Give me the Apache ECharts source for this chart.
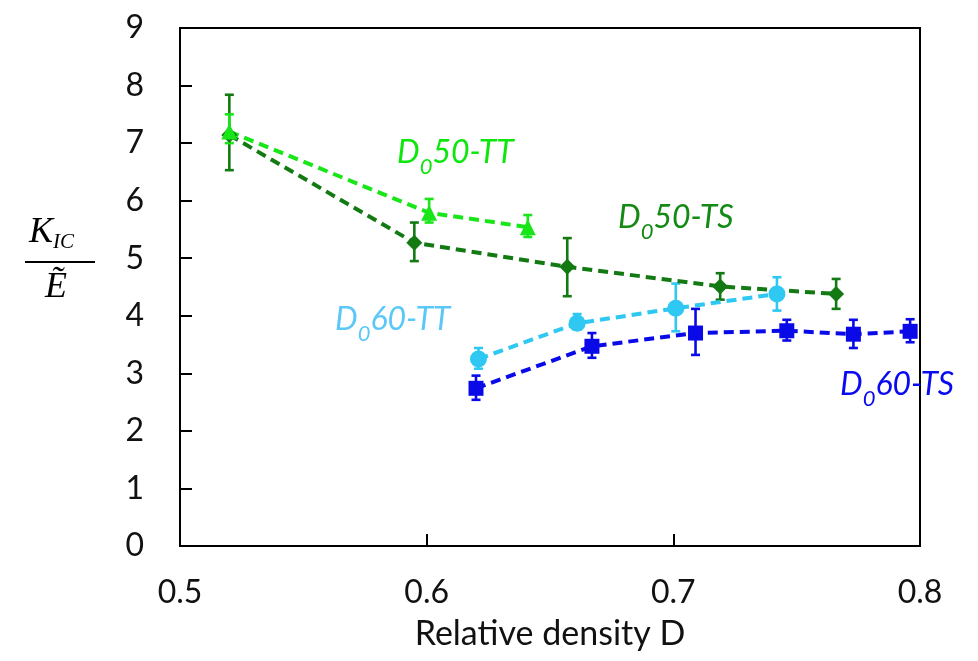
<!DOCTYPE html>
<html><head><meta charset="utf-8">
<script src="https://cdn.jsdelivr.net/npm/echarts@6/dist/echarts.min.js"></script>
<style>html,body{margin:0;padding:0;background:#fff}#c{width:978px;height:661px}</style>
</head><body><div id="c"></div>
<script>
// ---- data ----
const xTicks = [0.5, 0.6, 0.7, 0.8];
const yTicks = [0,1,2,3,4,5,6,7,8,9];

const tt50X  = [0.520, 0.601, 0.641];
const tt50Y  = [7.20, 5.79, 5.54];
const tt50Lo = [7.00, 5.62, 5.37];
const tt50Hi = [7.50, 6.03, 5.75];

const ts50X  = [0.520, 0.595, 0.657, 0.719, 0.766];
const ts50Y  = [7.14, 5.27, 4.85, 4.51, 4.38];
const ts50Lo = [6.53, 4.95, 4.34, 4.28, 4.12];
const ts50Hi = [7.84, 5.62, 5.35, 4.74, 4.64];

const tt60X  = [0.621, 0.661, 0.701, 0.742];
const tt60Y  = [3.25, 3.87, 4.13, 4.38];
const tt60Lo = [3.08, 3.76, 3.73, 4.09];
const tt60Hi = [3.44, 4.03, 4.56, 4.67];

const ts60X  = [0.620, 0.667, 0.709, 0.746, 0.773, 0.796];
const ts60Y  = [2.74, 3.47, 3.70, 3.74, 3.68, 3.73];
const ts60Lo = [2.54, 3.27, 3.32, 3.57, 3.44, 3.54];
const ts60Hi = [2.96, 3.70, 4.12, 3.93, 3.93, 3.94];

const seriesNames = ['D050-TS', 'D050-TT', 'D060-TS', 'D060-TT'];

// ---- styles ----
const C_TT50 = '#19e619';
const C_TS50 = '#137a13';
const C_TT60 = '#2ec8f2';
const C_TS60 = '#0a0ae8';

function pairs(xs, ys){ return xs.map((x,i)=>[x, ys[i]]); }
function errData(xs, lo, hi){ return xs.map((x,i)=>[x, lo[i], hi[i]]); }

function lineSeries(name, xs, ys, color, symbol, size){
  return {
    name, type:'line', data: pairs(xs, ys), symbol, symbolSize: size,
    itemStyle:{color}, lineStyle:{color, width:4, type:[10,6]},
    z: 5, animation:false
  };
}
function errSeries(name, xs, lo, hi, color){
  return {
    name: name + ' err', type:'custom', data: errData(xs, lo, hi),
    encode:{x:0, y:[1,2]}, z: 4, animation:false,
    renderItem(params, api){
      const x = api.value(0);
      const p1 = api.coord([x, api.value(1)]);
      const p2 = api.coord([x, api.value(2)]);
      const w = 4.5;
      const st = {stroke: color, lineWidth: 2.6};
      return {type:'group', children:[
        {type:'line', shape:{x1:p1[0], y1:p1[1], x2:p2[0], y2:p2[1]}, style:st},
        {type:'line', shape:{x1:p1[0]-w, y1:p1[1], x2:p1[0]+w, y2:p1[1]}, style:st},
        {type:'line', shape:{x1:p2[0]-w, y1:p2[1], x2:p2[0]+w, y2:p2[1]}, style:st}
      ]};
    }
  };
}

const chart = echarts.init(document.getElementById('c'), null, {renderer:'canvas'});

const labFont = 'Lato, "Open Sans", sans-serif';
function richLabel(main1, sub, main2, color){
  return {
    text: '{m|' + main1 + '}{s|' + sub + '}{m|' + main2 + '}',
    rich: {
      m: {fontSize: 32, fontStyle:'italic', fontFamily: labFont, fill: color},
      s: {fontSize: 22, fontStyle:'italic', fontFamily: labFont, fill: color, padding:[28,0,0,0]}
    }
  };
}

const option = {
  backgroundColor: '#fff',
  animation: false,
  grid: {left:180, right:58, top:28, bottom:115, show:true, borderColor:'#000', borderWidth:2, backgroundColor:'transparent'},
  xAxis: {
    type:'value', min: xTicks[0], max: xTicks[xTicks.length-1], interval: 0.1,
    name: 'Relative density D', nameLocation:'middle', nameGap: 71,
    nameTextStyle:{fontFamily: labFont, fontSize: 34, color:'#111'},
    axisLine:{show:true, lineStyle:{color:'#000', width:2}},
    axisTick:{show:true, inside:true, length:12, lineStyle:{color:'#000', width:2}},
    axisLabel:{fontFamily: labFont, fontSize: 32, color:'#111', margin: 31},
    splitLine:{show:false}
  },
  yAxis: {
    type:'value', min: yTicks[0], max: yTicks[yTicks.length-1], interval: 1,
    axisLine:{show:true, lineStyle:{color:'#000', width:2}},
    axisTick:{show:true, inside:true, length:12, lineStyle:{color:'#000', width:2}},
    axisLabel:{fontFamily: labFont, fontSize: 32, color:'#111', margin: 36},
    splitLine:{show:false}
  },
  series: [
    errSeries(seriesNames[0], ts50X, ts50Lo, ts50Hi, C_TS50),
    lineSeries(seriesNames[0], ts50X, ts50Y, C_TS50, 'diamond', 16),
    errSeries(seriesNames[1], tt50X, tt50Lo, tt50Hi, C_TT50),
    lineSeries(seriesNames[1], tt50X, tt50Y, C_TT50, 'triangle', 16),
    errSeries(seriesNames[2], ts60X, ts60Lo, ts60Hi, C_TS60),
    lineSeries(seriesNames[2], ts60X, ts60Y, C_TS60, 'rect', 15),
    errSeries(seriesNames[3], tt60X, tt60Lo, tt60Hi, C_TT60),
    lineSeries(seriesNames[3], tt60X, tt60Y, C_TT60, 'circle', 17)
  ],
  graphic: [
    {type:'text', left: 397, top: 137, style: richLabel('D','0','50-TT','#0ee60e')},
    {type:'text', left: 618, top: 202, style: richLabel('D','0','50-TS','#138a13')},
    {type:'text', left: 335, top: 304, style: richLabel('D','0','60-TT','#5cc8f8')},
    {type:'text', left: 840, top: 369, style: richLabel('D','0','60-TS','#0a0af0')},
    // y-axis title as a fraction K_IC / Ẽ
    {type:'text', left: 29, top: 215, style:{
      text:'{k|K}{s|IC}',
      rich:{
        k:{fontFamily:'"Liberation Serif", serif', fontStyle:'italic', fontSize:36, fill:'#000'},
        s:{fontFamily:'"Liberation Serif", serif', fontStyle:'italic', fontSize:21, fill:'#000', padding:[18,0,0,0]}
      }
    }},
    {type:'line', shape:{x1:25, y1:262, x2:95, y2:262}, style:{stroke:'#000', lineWidth:2}},
    {type:'text', left: 45, top: 270, style:{
      text:'Ẽ', fontFamily:'"Liberation Serif", serif', fontStyle:'italic', fontSize:36, fill:'#000'
    }}
  ]
};
chart.setOption(option);
</script>
</body></html>
